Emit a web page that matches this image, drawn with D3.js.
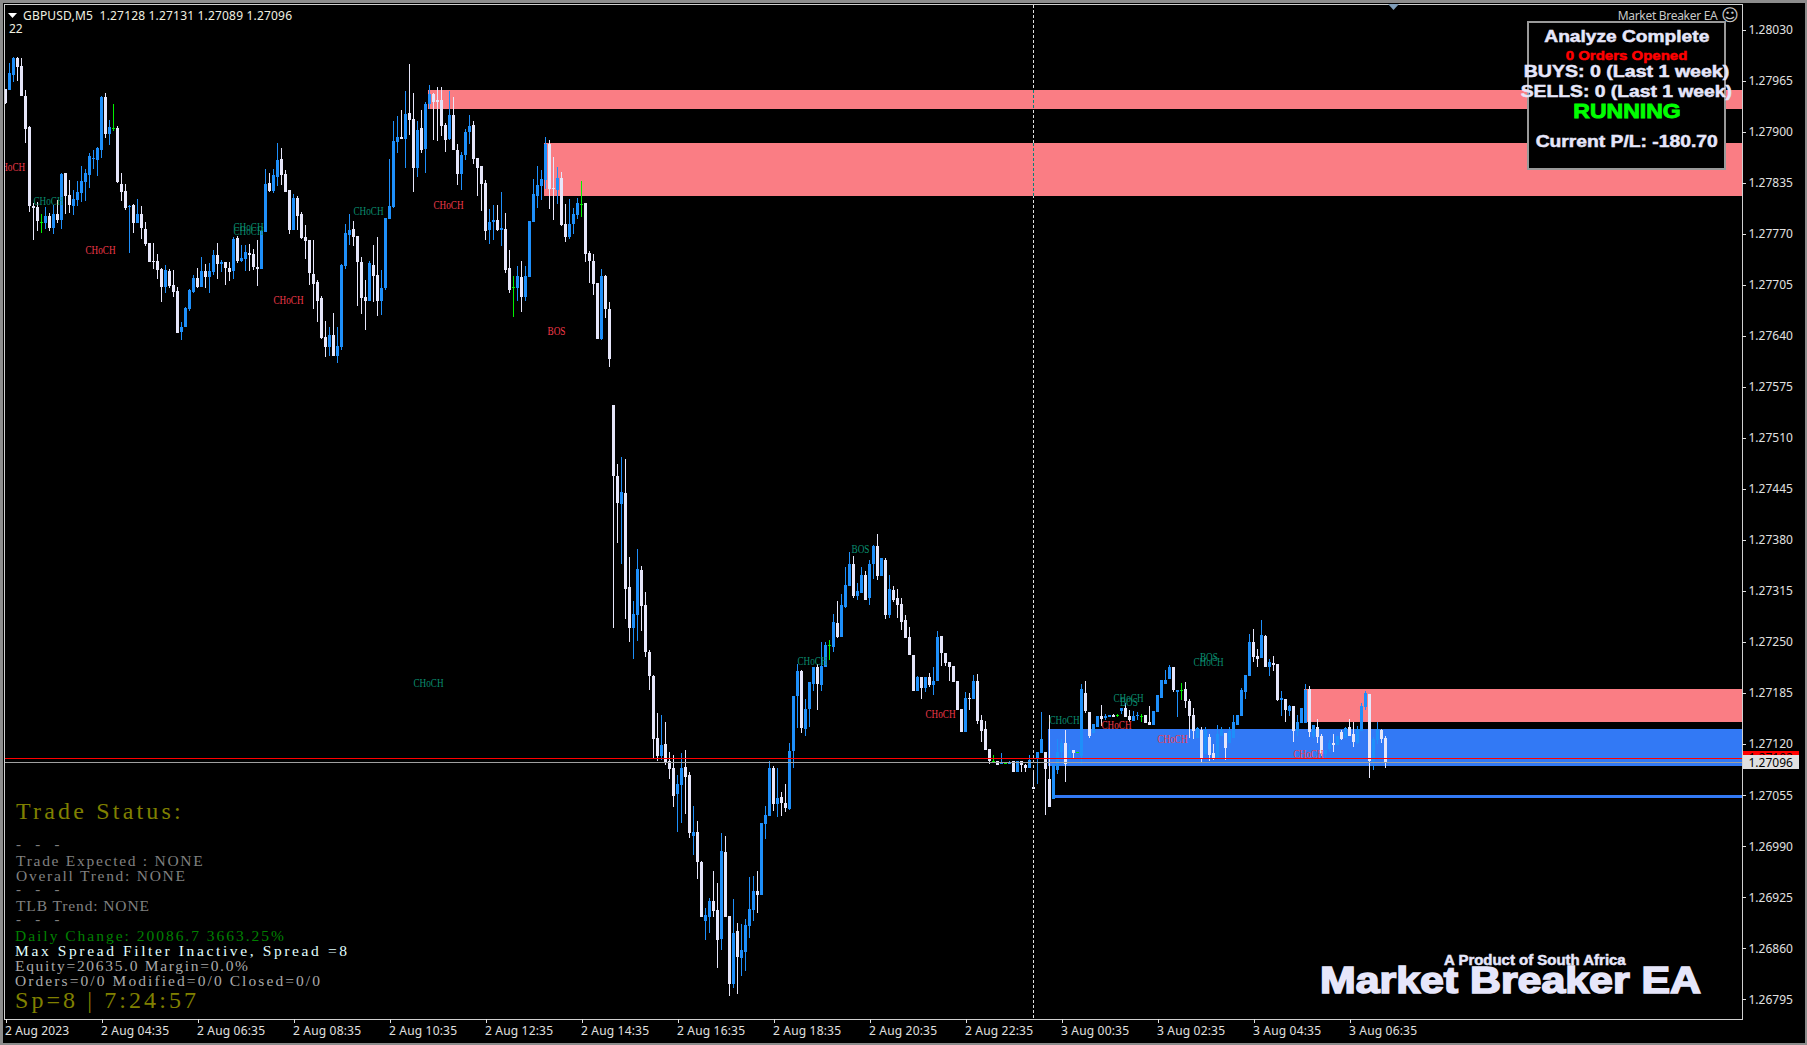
<!DOCTYPE html>
<html><head><meta charset="utf-8">
<script src="https://cdn.jsdelivr.net/npm/d3@7/dist/d3.min.js"></script>
<style>html,body{margin:0;background:#000;overflow:hidden}svg{display:block}text{white-space:pre}</style>
</head><body><svg id="c" width="1807" height="1045"></svg>
<script>
// Prices are stored as points above 1.27000 (1 point = 0.00001)
const highs=[955,987,995,995,994,953,907,809,810,795,
804,797,807,813,848,848,839,826,837,856,
853,873,877,881,945,949,915,935,907,847,
834,807,808,814,805,785,758,758,744,727,
730,725,724,702,658,677,700,718,726,740,
732,733,750,758,737,734,734,766,767,756,
756,757,751,762,775,853,847,853,886,879,
851,826,821,818,798,781,762,762,711,691,
659,651,669,651,731,783,795,786,767,740,
711,735,756,766,724,790,865,914,920,928,
952,986,949,914,928,938,959,950,957,957,
911,952,944,885,874,903,921,914,866,856,
838,801,807,807,823,796,750,716,729,735,
729,786,840,856,851,893,889,868,855,849,
808,814,803,815,837,809,748,744,707,725,
717,683,552,477,486,483,358,302,368,347,
314,240,208,160,157,148,110,106,81,109,
113,85,41,22,-29,-89,-76,-42,-57,7,
3,-99,-77,-108,-109,-103,-49,-48,-42,20,
41,99,92,90,59,69,122,181,222,214,
177,199,218,222,250,250,253,286,302,311,
346,365,360,325,345,341,355,374,388,357,
357,336,321,317,306,285,269,234,207,206,
206,211,218,264,258,236,225,220,201,165,
187,185,208,209,157,150,114,106,99,109,
96,99,98,99,99,95,106,84,110,161,
110,157,95,126,126,138,120,112,110,196,
200,161,146,156,170,158,157,159,159,166,
172,163,162,161,158,157,168,162,182,202,
214,221,218,189,198,199,177,166,142,142,
142,133,120,144,142,134,142,157,157,191,
208,260,267,241,278,259,228,232,222,188,
177,170,168,157,166,196,194,144,152,133,
112,125,133,131,138,142,152,148,143,172,
188,184,129,148,139,131];
const opens=[955,953,972,994,984,946,906,806,804,785,
784,793,777,795,788,847,820,806,813,822,
836,845,865,864,877,944,897,905,905,834,
825,804,807,784,795,776,758,735,735,725,
702,723,705,697,645,651,674,696,714,702,
723,715,721,743,732,734,727,723,765,735,
738,746,744,728,725,772,835,825,842,865,
846,826,775,816,795,766,762,719,709,688,
638,626,641,615,626,729,768,776,767,734,
689,684,730,717,685,701,789,804,887,893,
891,924,916,854,905,878,935,948,940,940,
908,891,921,877,846,870,900,908,866,856,
835,775,785,787,775,776,726,702,701,715,
689,715,785,818,831,838,885,828,826,841,
782,766,782,794,808,809,745,736,707,636,
716,674,552,461,426,440,320,268,284,342,
297,238,207,128,105,120,99,90,57,68,
91,81,3,8,-30,-105,-100,-80,-91,-128,
-17,-99,-186,-118,-152,-145,-112,-91,-67,-72,
18,28,90,44,53,45,38,111,181,213,
139,165,197,218,195,218,246,244,274,257,
295,322,350,309,313,335,306,349,372,334,
355,285,316,306,299,278,256,234,188,205,
191,206,195,200,258,236,225,220,201,165,
136,179,178,201,151,139,114,99,99,95,
96,95,98,85,99,93,89,65,101,109,
110,75,50,87,110,121,102,112,110,105,
185,161,134,142,156,153,154,157,157,162,
166,156,149,156,156,157,148,145,161,179,
197,203,218,186,189,190,175,157,128,138,
108,129,109,101,130,134,121,128,144,156,
186,207,250,232,230,258,218,223,222,176,
177,162,168,137,147,147,190,131,142,130,
107,114,121,119,135,128,142,133,121,137,
167,184,98,125,138,128];
const closes=[936,975,994,983,945,904,806,803,786,785,
793,777,795,788,846,818,807,814,823,837,
847,869,867,879,944,897,906,905,836,823,
803,806,784,795,777,757,734,734,724,702,
724,704,696,644,651,676,698,714,702,723,
715,723,743,732,734,727,721,763,735,739,
747,743,728,725,774,834,825,845,864,845,
823,775,816,793,765,761,720,706,684,637,
626,641,615,627,730,771,775,766,734,688,
684,733,716,684,701,790,805,888,893,891,
922,915,854,902,877,935,948,938,938,907,
889,921,877,846,870,900,907,865,854,833,
773,785,787,775,777,724,699,702,716,689,
716,786,821,832,840,885,827,827,841,781,
766,782,795,809,808,744,736,706,636,716,
674,610,461,427,441,317,268,286,343,296,
237,207,127,105,119,97,88,54,69,90,
78,7,8,-30,-100,-98,-80,-93,-130,-16,
-100,-186,-121,-151,-142,-110,-90,-67,-72,20,
30,90,44,51,45,39,111,181,213,140,
165,199,218,196,219,246,246,275,257,297,
323,350,309,315,335,304,349,372,334,357,
285,317,304,297,275,255,234,188,206,191,
205,195,200,257,236,223,218,199,164,136,
179,178,201,149,137,113,99,99,94,96,
96,97,85,99,93,90,100,63,110,126,
88,40,95,110,121,95,112,109,110,190,
162,130,146,156,152,156,157,154,157,166,
154,151,156,157,156,147,145,162,182,202,
202,218,189,189,189,175,156,137,140,101,
138,106,102,133,139,115,137,148,157,189,
208,250,231,228,259,218,224,221,176,179,
163,168,137,148,166,189,135,144,129,107,
112,121,119,131,126,140,131,123,139,168,
185,98,126,139,126,96];
const lows=[935,953,964,965,945,886,798,762,774,771,
776,774,770,784,776,795,796,794,805,811,
812,828,852,844,866,892,883,901,835,812,
800,745,771,784,764,754,734,725,712,683,
695,701,690,644,635,651,672,695,701,702,
701,695,718,712,721,705,710,712,733,734,
723,723,724,704,725,772,823,822,831,832,
823,770,775,775,763,738,705,674,658,636,
613,614,614,605,622,725,756,754,678,668,
647,684,683,665,666,698,789,803,873,891,
854,896,823,842,873,847,929,889,888,894,
874,889,877,832,826,864,884,859,818,799,
762,757,762,773,754,720,694,664,685,670,
684,715,785,803,813,827,801,787,808,780,
759,764,770,789,792,734,708,692,636,635,
663,600,268,376,349,279,250,228,251,264,
231,189,101,99,100,93,76,40,8,20,
31,0,-21,-52,-100,-130,-121,-100,-165,-142,
-100,-201,-191,-198,-175,-169,-127,-105,-95,-72,
-1,28,35,27,28,34,36,90,141,134,
130,142,188,164,188,218,227,238,255,256,
294,322,306,304,313,304,297,330,329,334,
280,281,301,281,265,255,234,188,188,177,
186,193,183,200,220,219,201,199,164,136,
135,163,178,146,123,113,95,97,94,95,
95,95,84,85,84,84,89,63,69,109,
30,40,50,82,102,72,102,102,109,95,
160,128,134,142,143,151,154,154,154,158,
154,148,149,151,148,147,144,145,161,179,
197,203,186,154,176,166,128,126,128,96,
108,98,100,101,130,100,121,128,144,156,
177,207,224,218,230,218,207,213,175,156,
148,156,123,131,147,147,129,128,121,105,
102,110,110,119,125,128,130,116,120,137,
164,77,87,120,121,89];

const priceTicks=["1.28030","1.27965","1.27900","1.27835","1.27770","1.27705","1.27640","1.27575","1.27510","1.27445","1.27380","1.27315","1.27250","1.27185","1.27120","1.27055","1.26990","1.26925","1.26860","1.26795"];
const timeTicks=["2 Aug 2023","2 Aug 04:35","2 Aug 06:35","2 Aug 08:35","2 Aug 10:35","2 Aug 12:35","2 Aug 14:35","2 Aug 16:35","2 Aug 18:35","2 Aug 20:35","2 Aug 22:35","3 Aug 00:35","3 Aug 02:35","3 Aug 04:35","3 Aug 06:35"];
const BARS_PER_TICK=24;

// supply/demand zones: start bar, upper and lower price (points)
const zoneStart=[106,135,325,261,262];
const zoneTop=[953,886,190,139,55];
const zoneBottom=[929,818,148,92,51];
const zoneKind=["s","s","s","d","d"];

// structure labels: bar, price (points), text, side
const labelBar=[-2.6,7,20,57,57,67,87,107,135.5,198,211.5,230,102,261,277,278.6,274,288,298.6,297,322];
const labelPrice=[855,812,749,779,774,686,799,807,646,226,369,158,198,151,179,174,144,126,231,225,107];
const labelText=["CHoCH","CHoCH","CHoCH","CHoCH","CHoCH","CHoCH","CHoCH","CHoCH","BOS","CHoCH","BOS","CHoCH","CHoCH","CHoCH","CHoCH","BOS","CHoCH","CHoCH","BOS","CHoCH","CHoCH"];
const labelSide=["r","t","r","t","t","r","t","r","r","t","t","r","t","t","t","t","r","r","t","t","r"];

const bidPrice=96, askPrice=102, separatorBar=257;

const CANDLE={up:"#1E8FFA",down:"#E6E6FA",flat:"#00F000"};
const svg=d3.select("#c");
const W=1807,H=1045,L=5,R=1742,T=5,B=1019;
const x=d3.scaleLinear().domain([0,345]).range([5.5,1385.5]);
const yAbs=d3.scaleLinear().domain([1.26795,1.2803]).range([999.3,29.7]);
const y=p=>yAbs(1.27+p/1e5);

svg.append("rect").attr("width",W).attr("height",H).attr("fill","#000");
const defs=svg.append("defs");
defs.append("clipPath").attr("id","plot").append("rect").attr("x",L).attr("y",T).attr("width",R-L).attr("height",B-T);
const plot=svg.append("g").attr("clip-path","url(#plot)").attr("shape-rendering","crispEdges");

// zones
plot.selectAll("rect.zone").data(zoneStart).join("rect").attr("class","zone")
 .attr("x",d=>x(d)-1.5).attr("width",d=>R-x(d)+1.5)
 .attr("y",(d,i)=>y(zoneTop[i])).attr("height",(d,i)=>y(zoneBottom[i])-y(zoneTop[i]))
 .attr("fill",(d,i)=>zoneKind[i]=="s"?"#FA7D84":"#3279F5");

// separator, inverted where it crosses the two upper zones
plot.append("line").attr("x1",x(separatorBar)).attr("x2",x(separatorBar)).attr("y1",T).attr("y2",B)
 .attr("stroke","#E0E0E0").attr("stroke-dasharray","3,2");
[0,1].forEach(z=>plot.append("line").attr("x1",x(separatorBar)).attr("x2",x(separatorBar))
 .attr("y1",y(zoneTop[z])).attr("y2",y(zoneBottom[z])).attr("stroke","#FA7D84"));
[0,1].forEach(z=>plot.append("line").attr("x1",x(separatorBar)).attr("x2",x(separatorBar))
 .attr("y1",y(zoneTop[z])).attr("y2",y(zoneBottom[z])).attr("stroke","#058278").attr("stroke-dasharray","3,2"));

// candles
const idx=d3.range(highs.length);
const col=i=>closes[i]>opens[i]?CANDLE.up:closes[i]<opens[i]?CANDLE.down:CANDLE.flat;
plot.selectAll("line.w").data(idx).join("line").attr("class","w")
 .attr("x1",i=>x(i)).attr("x2",i=>x(i)).attr("y1",i=>y(highs[i])).attr("y2",i=>y(lows[i])).attr("stroke",col);
plot.selectAll("rect.b").data(idx).join("rect").attr("class","b")
 .attr("x",i=>x(i)-1.5).attr("width",3)
 .attr("y",i=>y(Math.max(opens[i],closes[i])))
 .attr("height",i=>Math.max(1,Math.abs(y(opens[i])-y(closes[i]))))
 .attr("fill",col);

// price lines
[[askPrice,"#FF0000"],[bidPrice,"#A0A0A0"]].forEach(([p,c])=>{
 plot.append("line").attr("x1",L).attr("x2",R).attr("y1",y(p)).attr("y2",y(p)).attr("stroke",c);
});

// labels
const SF="Liberation Serif";
plot.selectAll("text.lab").data(labelBar).join("text").attr("class","lab")
 .attr("x",d=>x(d)).attr("y",(d,i)=>y(labelPrice[i])+4)
 .attr("font-family",SF).attr("font-size",12)
 .attr("textLength",(d,i)=>labelText[i].length*6).attr("lengthAdjust","spacingAndGlyphs")
 .attr("fill",(d,i)=>labelSide[i]=="r"?"#F23A4A":"#0A8F70")
 .text((d,i)=>labelText[i]);

// frame
const frame=svg.append("g").attr("shape-rendering","crispEdges");
frame.append("rect").attr("width",W).attr("height",3).attr("fill","#8c8c8c");
frame.append("rect").attr("width",3).attr("height",H).attr("fill","#8c8c8c");
frame.append("rect").attr("x",W-2).attr("width",2).attr("height",H).attr("fill","#8c8c8c");
frame.append("rect").attr("y",H-2).attr("width",W).attr("height",2).attr("fill","#8c8c8c");
frame.append("rect").attr("x",L-1).attr("y",T-1).attr("width",R-L+1).attr("height",B-T+1).attr("fill","none").attr("stroke","#D0D0D0");
svg.append("path").attr("d","M1388 4H1399L1393.5 10Z").attr("fill","#7f9db9");

// axes
const AX="#E0E0E0", AF="Noto Sans";
const yAxis=d3.axisRight(yAbs).tickValues(priceTicks.map(Number)).tickFormat((d,i)=>priceTicks[i]).tickSize(4).tickPadding(2.5);
const gy=svg.append("g").attr("transform",`translate(${R},0)`).call(yAxis);
const xAxis=d3.axisBottom(x).tickValues(timeTicks.map((d,i)=>i*BARS_PER_TICK)).tickFormat((d,i)=>timeTicks[i]).tickSize(4).tickPadding(3);
const gx=svg.append("g").attr("transform",`translate(0,${B})`).call(xAxis);
[gy,gx].forEach(g=>{g.select(".domain").remove();g.selectAll("line").attr("stroke",AX).attr("shape-rendering","crispEdges");
 g.selectAll("text").attr("fill",AX).attr("font-family",AF).attr("font-size",12);});
gx.selectAll("text").attr("text-anchor","start").attr("dx",-1).attr("textLength",(d,i)=>i==0?64:68);

// price tags
const tags=svg.append("g");
tags.append("rect").attr("x",1743).attr("y",y(askPrice)-7).attr("width",56).attr("height",14).attr("fill","#FF0000").attr("shape-rendering","crispEdges");
tags.append("text").attr("x",1748.5).attr("y",y(askPrice)+4).attr("font-family",AF).attr("font-size",12).attr("fill","#000").text("1.27102");
tags.append("rect").attr("x",1743).attr("y",y(bidPrice)-7.5).attr("width",56).attr("height",14).attr("fill","#E0E0E0").attr("shape-rendering","crispEdges");
tags.append("text").attr("x",1748.5).attr("y",y(bidPrice)+4).attr("font-family",AF).attr("font-size",12).attr("fill","#000").text("1.27096");

// header
svg.append("path").attr("d","M8 13H17L12.5 18Z").attr("fill","#fff");
svg.append("text").attr("x",23).attr("y",19.5).attr("textLength",269).attr("font-family",AF).attr("font-size",12).attr("fill","#F0F0E0").text("GBPUSD,M5  1.27128 1.27131 1.27089 1.27096");
svg.append("text").attr("x",9).attr("y",32.5).attr("font-family",AF).attr("font-size",12).attr("fill","#F0F0E0").text("22");

// top right
svg.append("text").attr("x",1617.7).attr("y",20).attr("font-family",AF).attr("font-size",12).attr("fill","#C8C8C8").attr("textLength",100).text("Market Breaker EA");
svg.append("text").attr("x",1730).attr("y",21).attr("text-anchor","middle").attr("font-family","DejaVu Sans").attr("font-size",17).attr("fill","#C8C8C8").text("\u263A");

// status panel
const PF="Liberation Sans";
svg.append("rect").attr("x",1527.5).attr("y",21.5).attr("width",197).attr("height",147).attr("fill","#000").attr("stroke","#9a9a9a").attr("stroke-width",2).attr("shape-rendering","crispEdges");
const panelLines=[
 ["Analyze Complete",1544.3,165,41.5,16.5,"#E6E6FA",.5],
 ["0 Orders Opened",1565.7,121.6,59.5,13,"#FF0000",.5],
 ["BUYS: 0 (Last 1 week)",1523.7,205.6,76.8,16.5,"#E6E6FA",.5],
 ["SELLS: 0 (Last 1 week)",1520.7,211.3,96.8,16.5,"#E6E6FA",.5],
 ["RUNNING",1573.3,107.4,118.2,21,"#00FF00",.9],
 ["Current P/L: -180.70",1535.7,182,146.5,16.5,"#E6E6FA",.5]];
svg.selectAll("text.p").data(panelLines).join("text").attr("class","p")
 .attr("x",d=>d[1]).attr("y",d=>d[3]).attr("textLength",d=>d[2]).attr("lengthAdjust","spacingAndGlyphs")
 .attr("font-family",PF).attr("font-weight","bold").attr("font-size",d=>d[4]).attr("fill",d=>d[5]).attr("stroke",d=>d[5]).attr("stroke-width",d=>d[6]).text(d=>d[0]);

// bottom left status text
const statusLines=[
 ["Trade Status:",16,818.5,24,"#808000",164.7],
 ["- - -",16,849,15,"#808080",43.5],
 ["Trade Expected : NONE",16,866,15.5,"#808080",186.7],
 ["Overall Trend: NONE",16,881,15.5,"#808080",169],
 ["- - -",16,894,15,"#808080",43.5],
 ["TLB Trend: NONE",16,911,15.5,"#808080",133],
 ["- - -",16,924,15,"#808080",43.5],
 ["Daily Change: 20086.7 3663.25%",15,941,15.5,"#008000",269],
 ["Max Spread Filter Inactive, Spread =8",15,956,15.5,"#E0FFFF",332],
 ["Equity=20635.0 Margin=0.0%",15,971,15.5,"#A9A9A9",233],
 ["Orders=0/0 Modified=0/0 Closed=0/0",15,986,15.5,"#A9A9A9",305],
 ["Sp=8 | 7:24:57",15,1008,24,"#808000",181]];
svg.selectAll("text.s").data(statusLines).join("text").attr("class","s")
 .attr("x",d=>d[1]).attr("y",d=>d[2]).attr("font-family",SF).attr("font-size",d=>d[3]).attr("fill",d=>d[4])
 .attr("textLength",d=>d[5]).attr("lengthAdjust","spacing").text(d=>d[0]);

// brand
svg.append("text").attr("x",1444).attr("y",965).attr("textLength",181.7).attr("lengthAdjust","spacingAndGlyphs")
 .attr("font-family",PF).attr("font-weight","bold").attr("font-size",14).attr("fill","#E6E6FA").attr("stroke","#E6E6FA").attr("stroke-width",.5).text("A Product of South Africa");
svg.append("text").attr("x",1320).attr("y",992.5).attr("textLength",381).attr("lengthAdjust","spacingAndGlyphs")
 .attr("font-family",PF).attr("font-weight","bold").attr("font-size",36).attr("fill","#E6E6FA").attr("stroke","#E6E6FA").attr("stroke-width",1.6).text("Market Breaker EA");
</script></body></html>
